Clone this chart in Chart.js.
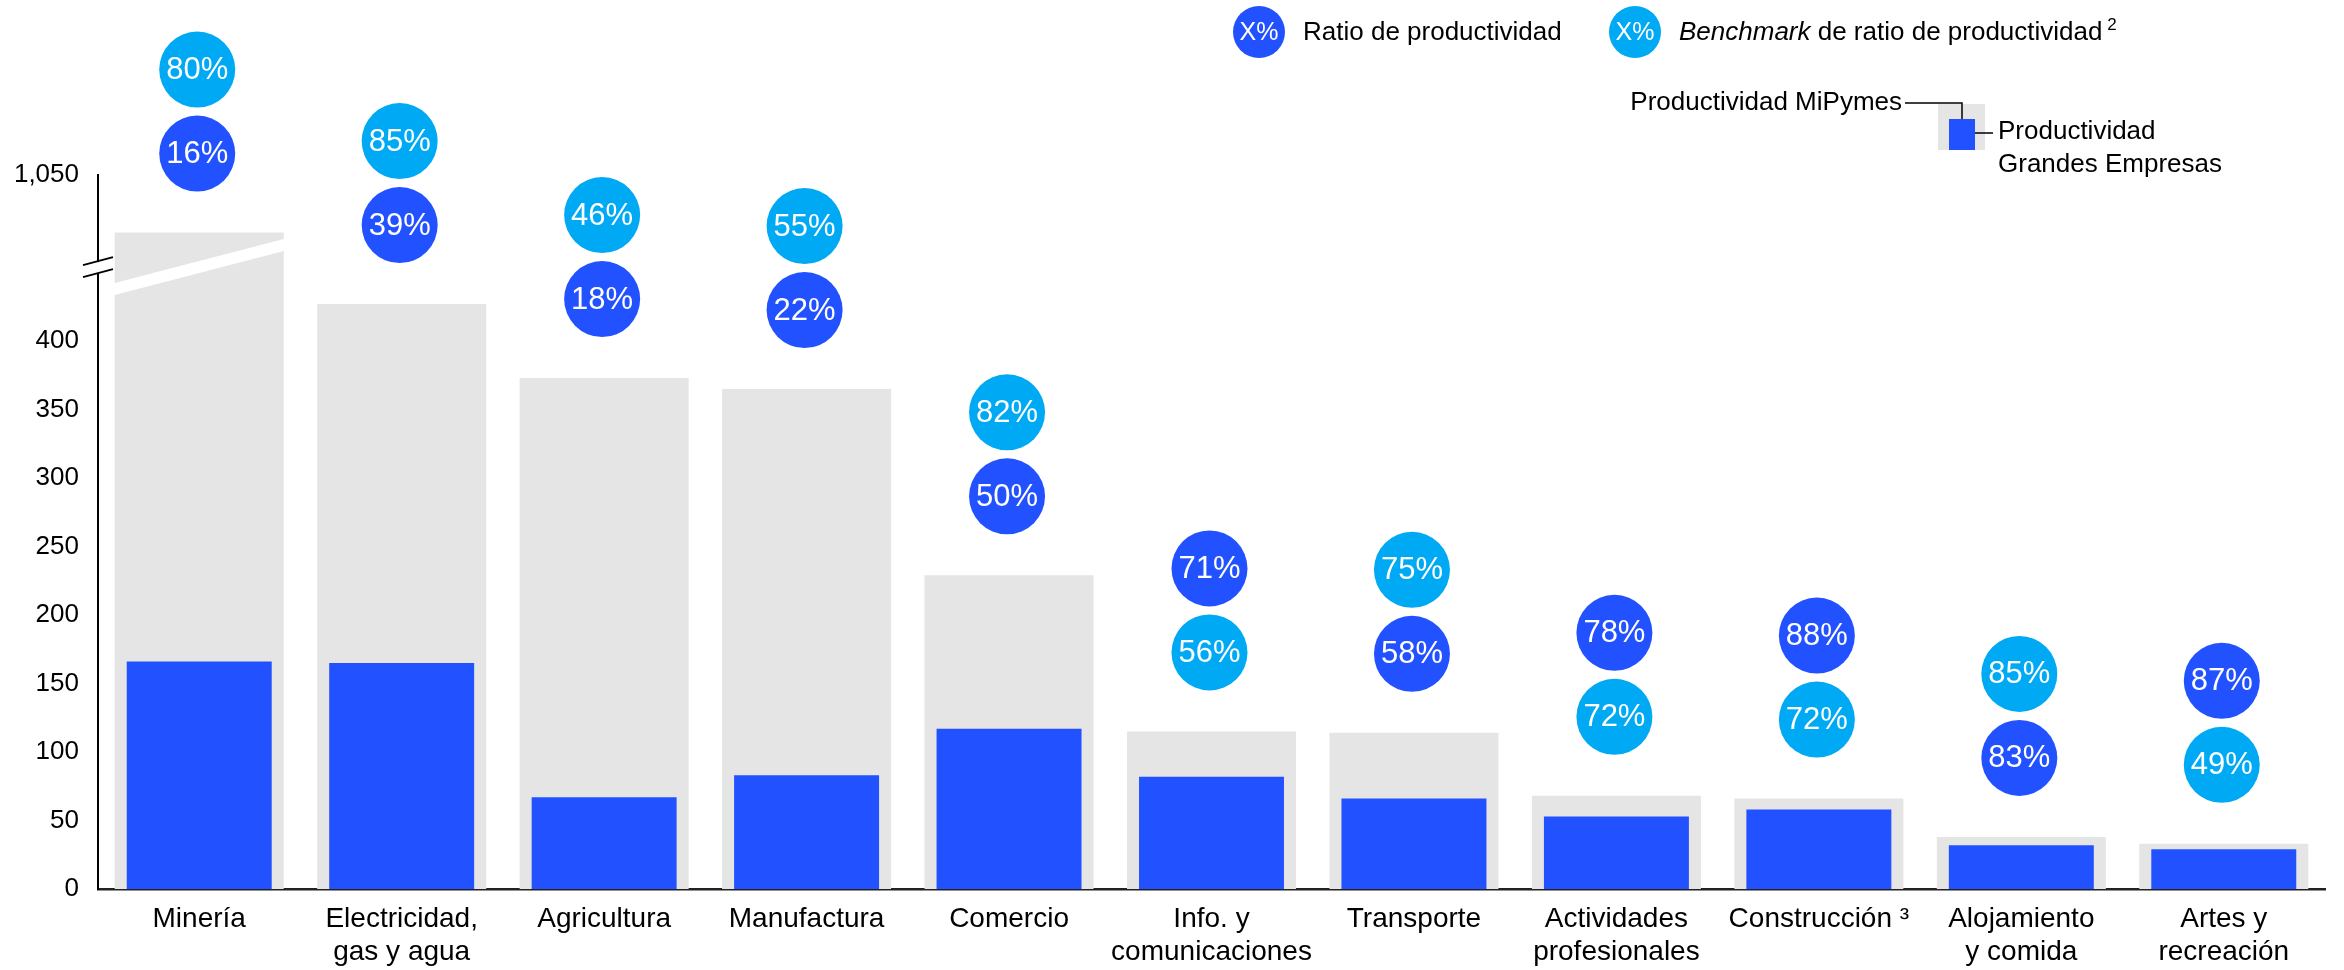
<!DOCTYPE html>
<html>
<head>
<meta charset="utf-8">
<title>Productividad MiPymes vs Grandes Empresas</title>
<script src="https://cdn.jsdelivr.net/npm/chart.js@4.4.1/dist/chart.umd.min.js"></script>
<style>
  html, body { margin: 0; padding: 0; background: #fff; }
  #wrap { width: 2344px; height: 970px; position: relative; }
</style>
</head>
<body>
<div id="wrap"><canvas id="chart"></canvas></div>
<script>
// datos
const sectores = ['Minería', ['Electricidad,', 'gas y agua'], 'Agricultura', 'Manufactura', 'Comercio',
  ['Info. y', 'comunicaciones'], 'Transporte', ['Actividades', 'profesionales'], 'Construcción ³',
  ['Alojamiento', 'y comida'], ['Artes y', 'recreación']];
const productividadMiPymes = [1040, 427, 373, 365, 229, 115, 114, 68, 66, 38, 33];
const productividadGrandes = [166, 165, 67, 83, 117, 82, 66, 53, 58, 32, 29];
const ratioProductividad = [16, 39, 18, 22, 50, 71, 58, 78, 88, 83, 87];
const benchmarkRatio = [80, 85, 46, 55, 82, 56, 75, 72, 72, 85, 49];
const yTicks = [0, 50, 100, 150, 200, 250, 300, 350, 400, 1050];

// corte del eje: 0..CORTE_BAJO abajo, CORTE_ALTO..max arriba
const CORTE_BAJO = 454;
const CORTE_ALTO = 1034;
const FRACCION_BAJA = 0.871;

const FONT = '"Liberation Sans", Arial, sans-serif';
const AZUL = '#2251FF';
const CELESTE = '#00A9F4';
const GRIS = '#E5E5E5';

Chart.defaults.font.family = FONT;
Chart.defaults.color = '#000';

class EjeCortado extends Chart.LinearScale {
  buildTicks() {
    return yTicks.map(v => ({ value: v }));
  }
  getPixelForValue(value) {
    if (value === null || value === undefined) return NaN;
    let d;
    if (value <= CORTE_BAJO) d = value / CORTE_BAJO * FRACCION_BAJA;
    else if (value < CORTE_ALTO) d = FRACCION_BAJA;
    else d = FRACCION_BAJA + (value - CORTE_ALTO) / (this.max - CORTE_ALTO) * (1 - FRACCION_BAJA);
    return this.getPixelForDecimal(d);
  }
  getValueForPixel(pixel) {
    const d = this.getDecimalForPixel(pixel);
    if (d <= FRACCION_BAJA) return d / FRACCION_BAJA * CORTE_BAJO;
    return CORTE_ALTO + (d - FRACCION_BAJA) / (1 - FRACCION_BAJA) * (this.max - CORTE_ALTO);
  }
}
EjeCortado.id = 'ejeCortado';
EjeCortado.defaults = {};
Chart.register(EjeCortado);

function circulo(ctx, x, y, r, color, texto, size) {
  ctx.fillStyle = color;
  ctx.beginPath();
  ctx.arc(x, y, r, 0, Math.PI * 2);
  ctx.fill();
  ctx.fillStyle = '#fff';
  ctx.font = size + 'px ' + FONT;
  ctx.textAlign = 'center';
  ctx.textBaseline = 'middle';
  ctx.fillText(texto, x, y + 1);
}

const cortePlugin = {
  id: 'corte',
  afterDatasetsDraw(chart) {
    const { ctx, scales: { y } } = chart;
    const bp = y.getPixelForValue(CORTE_BAJO);
    const ax = chart.chartArea.left;
    const bar = chart.getDatasetMeta(1).data[0];
    const half = bar.width / 2 + 1;
    const m = -0.26;
    ctx.save();
    ctx.fillStyle = '#fff';
    ctx.beginPath();
    ctx.moveTo(bar.x - half, bp - m * half - 6);
    ctx.lineTo(bar.x + half, bp + m * half - 6);
    ctx.lineTo(bar.x + half, bp + m * half + 6);
    ctx.lineTo(bar.x - half, bp - m * half + 6);
    ctx.closePath();
    ctx.fill();
    ctx.fillRect(ax - 4, bp - 5, 8, 11);
    ctx.strokeStyle = '#000';
    ctx.lineWidth = 2;
    ctx.beginPath();
    ctx.moveTo(ax - 15, bp - 2); ctx.lineTo(ax + 15, bp - 10);
    ctx.moveTo(ax - 15, bp + 10); ctx.lineTo(ax + 15, bp + 2);
    ctx.stroke();
    ctx.restore();
  }
};

const circulosPlugin = {
  id: 'circulos',
  afterDatasetsDraw(chart) {
    const { ctx, scales: { x, y } } = chart;
    const r = 38, gap = 41, paso = 84;
    ctx.save();
    sectores.forEach((s, i) => {
      const cx = x.getPixelForValue(i) - 2;
      const abajo = y.getPixelForValue(productividadMiPymes[i]) - gap - r;
      const ratioArriba = ratioProductividad[i] > benchmarkRatio[i];
      circulo(ctx, cx, ratioArriba ? abajo - paso : abajo, r, AZUL, ratioProductividad[i] + '%', 31);
      circulo(ctx, cx, ratioArriba ? abajo : abajo - paso, r, CELESTE, benchmarkRatio[i] + '%', 31);
    });
    ctx.restore();
  }
};

const leyendaPlugin = {
  id: 'leyenda',
  afterDraw(chart) {
    const ctx = chart.ctx;
    ctx.save();
    circulo(ctx, 1259, 32, 26, AZUL, 'X%', 25);
    circulo(ctx, 1635, 32, 26, CELESTE, 'X%', 25);
    ctx.fillStyle = '#000';
    ctx.textAlign = 'left';
    ctx.textBaseline = 'middle';
    ctx.font = '26px ' + FONT;
    ctx.fillText('Ratio de productividad', 1303, 33);
    ctx.font = 'italic 26px ' + FONT;
    ctx.fillText('Benchmark', 1679, 33);
    let w = ctx.measureText('Benchmark').width;
    ctx.font = '26px ' + FONT;
    const resto = ' de ratio de productividad';
    ctx.fillText(resto, 1679 + w, 33);
    w += ctx.measureText(resto).width;
    ctx.font = '17px ' + FONT;
    ctx.fillText(' 2', 1679 + w, 25);

    // mini leyenda de barras
    ctx.fillStyle = GRIS;
    ctx.fillRect(1938, 104, 47, 46);
    ctx.fillStyle = AZUL;
    ctx.fillRect(1949, 119, 26, 31);
    ctx.strokeStyle = '#000';
    ctx.lineWidth = 1.5;
    ctx.beginPath();
    ctx.moveTo(1905, 103); ctx.lineTo(1962, 103); ctx.lineTo(1962, 119);
    ctx.moveTo(1975, 133); ctx.lineTo(1993, 133);
    ctx.stroke();
    ctx.fillStyle = '#000';
    ctx.font = '26px ' + FONT;
    ctx.textAlign = 'right';
    ctx.fillText('Productividad MiPymes', 1902, 103);
    ctx.textAlign = 'left';
    ctx.fillText('Productividad', 1998, 132);
    ctx.fillText('Grandes Empresas', 1998, 165);
    ctx.restore();
  }
};

const ctx = document.getElementById('chart');
new Chart(ctx, {
  type: 'bar',
  data: {
    labels: sectores,
    datasets: [
      { label: 'Productividad Grandes Empresas', data: productividadGrandes, backgroundColor: AZUL,
        barPercentage: 0.716, categoryPercentage: 1, grouped: false, order: 1 },
      { label: 'Productividad MiPymes', data: productividadMiPymes, backgroundColor: GRIS,
        barPercentage: 0.835, categoryPercentage: 1, grouped: false, order: 2 }
    ]
  },
  options: {
    responsive: true,
    maintainAspectRatio: false,
    animation: false,
    layout: { padding: { top: 175, right: 19, left: 0, bottom: 0 } },
    plugins: { legend: { display: false }, tooltip: { enabled: false } },
    scales: {
      x: {
        grid: { display: false, drawTicks: false },
        border: { color: '#222', width: 2.5 },
        ticks: { font: { size: 28, lineHeight: 1.18 }, color: '#000', padding: 14, autoSkip: false, maxRotation: 0 },
        afterFit: s => { s.height = 81; }
      },
      y: {
        type: 'ejeCortado',
        min: 0,
        max: 1050,
        grid: { display: false, drawTicks: false },
        border: { color: '#000', width: 2 },
        ticks: { font: { size: 26 }, color: '#000', padding: 19, callback: v => v.toLocaleString('en-US') },
        afterFit: s => { s.width = 98; }
      }
    }
  },
  plugins: [cortePlugin, circulosPlugin, leyendaPlugin]
});
</script>
</body>
</html>
